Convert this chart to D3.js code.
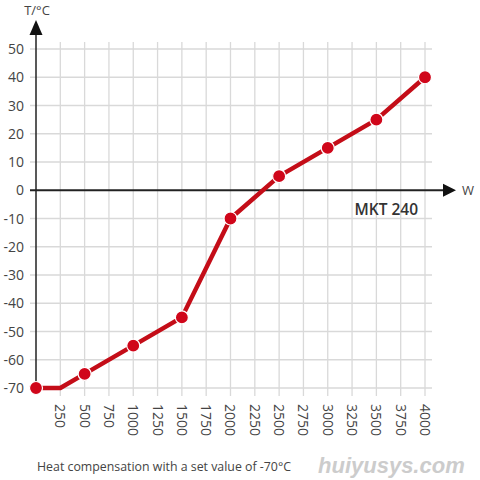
<!DOCTYPE html>
<html><head><meta charset="utf-8">
<script src="https://cdn.jsdelivr.net/npm/d3@7"></script>
<style>body{margin:0;background:#fff}svg{display:block}</style>
</head><body>
<svg id="c" width="480" height="480"></svg>
<script>
const powerW = [0, 250, 500, 1000, 1500, 2000, 2500, 3000, 3500, 4000];
const tempC = [-70, -70, -65, -55, -45, -10, 5, 15, 25, 40];
const markerPower = [0, 500, 1000, 1500, 2000, 2500, 3000, 3500, 4000];
const xTicks = [250, 500, 750, 1000, 1250, 1500, 1750, 2000, 2250, 2500, 2750, 3000, 3250, 3500, 3750, 4000];
const yTicks = [50, 40, 30, 20, 10, 0, -10, -20, -30, -40, -50, -60, -70];

const svg = d3.select("#c");
const x = d3.scaleLinear().domain([0, 4000]).range([36, 425]);
const y = d3.scaleLinear().domain([-70, 50]).range([388, 49]);
const font = "'Open Sans', sans-serif";
const gridC = "#d9d9d9";

// vertical grid
svg.append("g").selectAll("line").data(xTicks).join("line")
  .attr("x1", d => x(d)).attr("x2", d => x(d))
  .attr("y1", 42).attr("y2", 396)
  .attr("stroke", gridC).attr("stroke-width", 1.3);
// horizontal grid
svg.append("g").selectAll("line").data(yTicks.filter(d => d !== 0)).join("line")
  .attr("x1", 30).attr("x2", 432)
  .attr("y1", d => y(d)).attr("y2", d => y(d))
  .attr("stroke", gridC).attr("stroke-width", 1.3);

// y tick labels
svg.append("g").selectAll("text").data(yTicks).join("text")
  .attr("x", 24).attr("y", d => y(d)).attr("dy", "0.36em")
  .attr("text-anchor", "end").attr("font-family", font).attr("font-size", 14)
  .attr("fill", "#444").text(d => d);

// x tick labels (rotated)
svg.append("g").selectAll("text").data(xTicks).join("text")
  .attr("transform", d => `translate(${x(d)},404) rotate(90)`)
  .attr("dy", "0.36em").attr("text-anchor", "start")
  .attr("font-family", font).attr("font-size", 14).attr("fill", "#444")
  .text(d => d);

// y axis with arrow
svg.append("line").attr("x1", x(0)).attr("x2", x(0)).attr("y1", 388).attr("y2", 34)
  .attr("stroke", "#222").attr("stroke-width", 1.5);
svg.append("path").attr("d", `M${x(0)-6.5},35 L${x(0)+6.5},35 L${x(0)},20 Z`).attr("fill", "#111");
svg.append("text").attr("x", 37).attr("y", 15).attr("text-anchor", "middle")
  .attr("font-family", font).attr("font-size", 13).attr("fill", "#444").text("T/°C");

// x axis with arrow
svg.append("line").attr("x1", 30).attr("x2", 444).attr("y1", y(0)).attr("y2", y(0))
  .attr("stroke", "#222").attr("stroke-width", 1.8);
svg.append("path").attr("d", `M443,${y(0)-6.5} L443,${y(0)+6.5} L456,${y(0)} Z`).attr("fill", "#111");
svg.append("text").attr("x", 462).attr("y", y(0)).attr("dy", "0.36em")
  .attr("font-family", font).attr("font-size", 13).attr("fill", "#444").text("W");

svg.append("text").attr("x", 418).attr("y", 215).attr("text-anchor", "end")
  .attr("font-family", font).attr("font-size", 15.5).attr("font-weight", 600)
  .attr("fill", "#333").text("MKT 240");

// line
const pts = powerW.map((p, i) => [p, tempC[i]]);
svg.append("path").datum(pts)
  .attr("d", d3.line().x(d => x(d[0])).y(d => y(d[1])))
  .attr("fill", "none").attr("stroke", "#c40d18").attr("stroke-width", 4.5)
  .attr("stroke-linejoin", "round");
const markers = markerPower.map(p => [p, tempC[powerW.indexOf(p)]]);
svg.append("g").selectAll("circle").data(markers).join("circle")
  .attr("cx", d => x(d[0])).attr("cy", d => y(d[1])).attr("r", 6.5)
  .attr("fill", "#d0061a").attr("stroke", "#fff").attr("stroke-width", 1.2);

// caption
svg.append("text").attr("x", 37).attr("y", 471)
  .attr("font-family", font).attr("font-size", 12.5).attr("fill", "#444")
  .attr("textLength", 254).attr("lengthAdjust", "spacingAndGlyphs")
  .text("Heat compensation with a set value of -70°C");

// watermark
svg.append("text").attr("x", 318).attr("y", 473).attr("text-anchor", "start")
  .attr("font-family", "'Liberation Sans', Arial, sans-serif").attr("font-size", 22)
  .attr("font-weight", "bold").attr("font-style", "italic").attr("fill", "#cccccc")
  .text("huiyusys.com");
</script>
</body></html>
